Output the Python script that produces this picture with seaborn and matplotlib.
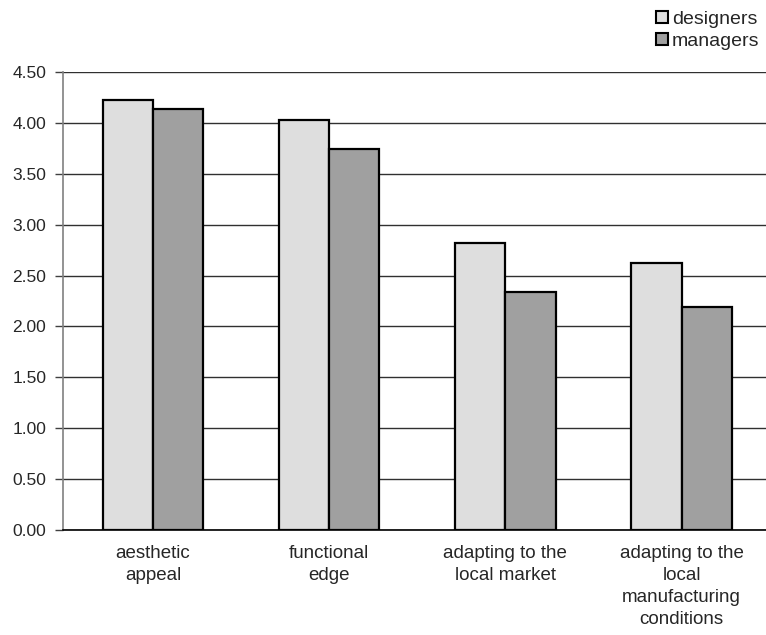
import matplotlib
matplotlib.use("Agg")
import matplotlib.pyplot as plt
import pandas as pd
import seaborn as sns
from matplotlib.patches import Patch

categories = [
    "aesthetic\nappeal",
    "functional\nedge",
    "adapting to the\nlocal market",
    "adapting to the\nlocal\nmanufacturing\nconditions",
]
designers = [4.22, 4.03, 2.82, 2.62]
managers = [4.14, 3.74, 2.34, 2.19]
groups = ["designers", "managers"]
colors = {"designers": "#dedede", "managers": "#a0a0a0"}

df = pd.DataFrame(
    {
        "category": categories * 2,
        "score": designers + managers,
        "group": ["designers"] * len(categories) + ["managers"] * len(categories),
    }
)

sns.set_style("white")
plt.rcParams["font.family"] = ["Liberation Sans", "DejaVu Sans"]

fig = plt.figure(figsize=(7.66, 6.35), dpi=100)
ax = fig.add_axes([0.0822, 0.1654, 0.92, 0.7213])

sns.barplot(
    data=df,
    x="category",
    y="score",
    hue="group",
    palette=colors,
    width=0.57,
    edgecolor="black",
    linewidth=1.6,
    saturation=1,
    legend=False,
    ax=ax,
)

ax.set_ylim(0, 4.5)
ax.set_xlim(-0.511, 3.489)
ax.set_yticks([i * 0.5 for i in range(10)])
ax.set_yticklabels([f"{i * 0.5:.2f}" for i in range(10)], fontsize=12.5)
ax.set_xticklabels(categories, fontsize=13.5, linespacing=1.4)
ax.set_xlabel("")
ax.set_ylabel("")

ax.yaxis.grid(True, color="#303030", linewidth=1)
ax.set_axisbelow(True)
ax.tick_params(axis="y", left=True, length=6, width=1, color="#404040", pad=6)
ax.tick_params(axis="x", bottom=False, pad=7)
for side in ["top", "right"]:
    ax.spines[side].set_visible(False)
ax.spines["left"].set_color("#808080")
ax.spines["left"].set_linewidth(1.2)
ax.spines["bottom"].set_color("black")
ax.spines["bottom"].set_linewidth(1.2)

handles = [Patch(facecolor=colors[g], edgecolor="black", linewidth=1.5) for g in groups]
fig.legend(
    handles,
    groups,
    loc="upper right",
    bbox_to_anchor=(1.014, 1.01),
    frameon=False,
    fontsize=14,
    handlelength=0.6,
    handleheight=0.6,
    handletextpad=0.2,
    labelspacing=0.25,
)

fig.savefig("out.png", dpi=100)
